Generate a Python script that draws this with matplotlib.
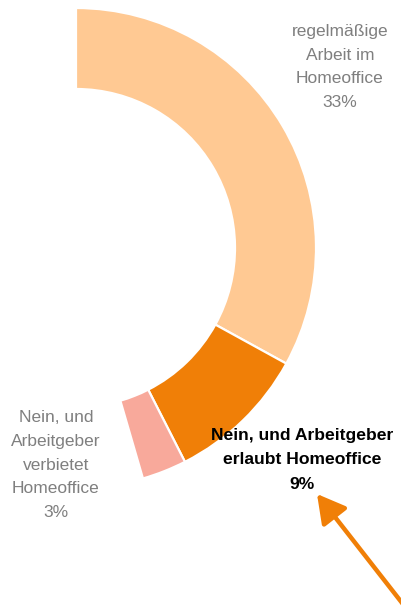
import matplotlib
matplotlib.use("Agg")
import matplotlib.pyplot as plt
from matplotlib import font_manager

# Data
categories = ["regelmäßige\nArbeit im\nHomeoffice",
              "Nein, und Arbeitgeber\nerlaubt Homeoffice",
              "Nein, und\nArbeitgeber\nverbietet\nHomeoffice"]
values = [33, 9.5, 3]
pct_labels = ["33%", "9%", "3%"]
colors = ["#FFC993", "#F07F07", "#F8A99B"]

W, H = 402, 613
fig = plt.figure(figsize=(W / 100, H / 100), dpi=100)
ax = fig.add_axes([0, 0, 1, 1])

names = {f.name for f in font_manager.fontManager.ttflist}
fam = ["Liberation Sans Narrow", "Liberation Sans", "DejaVu Sans"]
fam = [f for f in fam if f in names] or ["DejaVu Sans"]

def py(y):
    return H - y

ax.pie([v / 100 for v in values], normalize=False, colors=colors,
       startangle=90, counterclock=False, center=(76, py(248)), radius=240,
       wedgeprops=dict(width=81, edgecolor="white", linewidth=1.6))

ax.set_xlim(0, W)
ax.set_ylim(0, H)
ax.set_aspect("auto")
ax.axis("off")

gray = "#7F7F7F"
ax.text(340, py(67), categories[0] + "\n" + pct_labels[0], ha="center", va="center",
        fontsize=12.5, color=gray, family=fam, linespacing=1.7)
ax.text(302, py(460), categories[1] + "\n" + pct_labels[1], ha="center", va="center",
        fontsize=12.6, color="black", fontweight="bold", family=fam, linespacing=1.8)
ax.text(56, py(465), categories[2] + "\n" + pct_labels[2], ha="center", va="center",
        fontsize=12.5, color=gray, family=fam, linespacing=1.72)

ax.annotate("", xy=(317, py(494)), xytext=(406, py(608)),
            arrowprops=dict(arrowstyle="-|>,head_length=0.9,head_width=0.5",
                            color="#F07F07", lw=3.2, mutation_scale=19,
                            shrinkA=0, shrinkB=0))

fig.savefig("out.png", dpi=100, facecolor="white")
